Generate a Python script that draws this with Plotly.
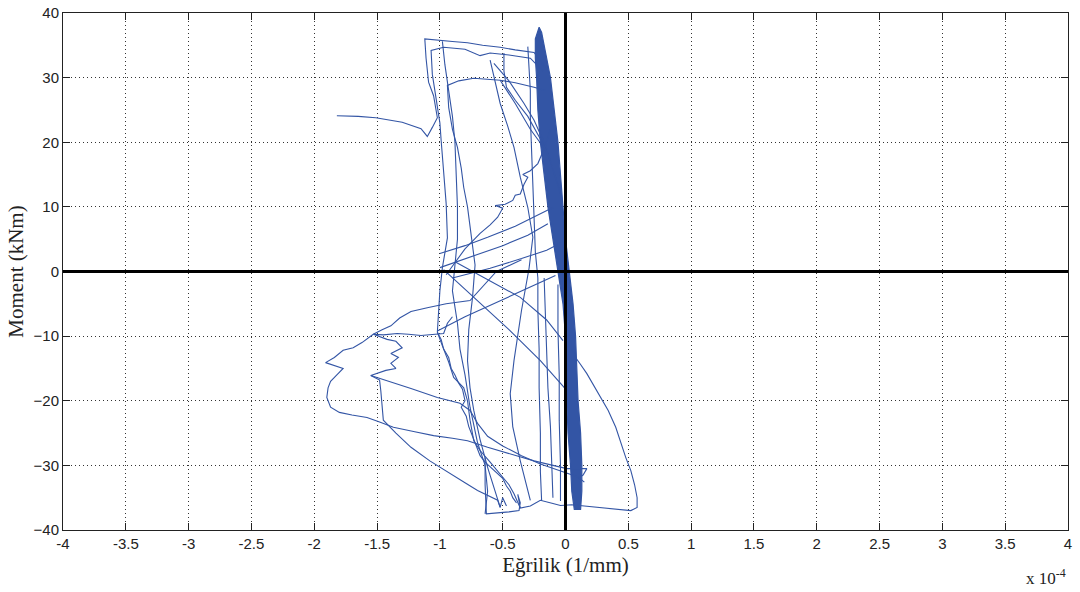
import plotly.graph_objects as go

# Moment-curvature hysteresis of the tested section.
# Curvature in units of 1e-4 1/mm, moment in kNm.

# Outer positive cycle, ending with the final excursion
curv_a = [-0.16, -0.25, -0.4, -0.52, -0.66, -0.78, -0.9, -1.0, -1.12, -1.11, -1.09, -1.05, -1.03, -1.02,
          -1.06, -1.1, -1.15, -1.3, -1.51, -1.65, -1.82]
mom_a = [31.5, 33.9, 34.3, 34.7, 35.0, 35.4, 35.6, 35.8, 36.0, 33.0, 29.3, 27.2, 25.2, 23.8,
         22.3, 20.9, 22.1, 23.1, 23.8, 24.0, 24.1]

curv_b = [-0.18, -0.28, -0.45, -0.6, -0.68, -0.8, -0.97, -1.07, -1.06, -1.03, -1.0, -0.99, -0.97, -0.95,
          -0.94, -0.96, -0.98, -1.0, -1.02, -0.98, -0.93, -0.89, -0.81, -0.78, -0.76, -0.73, -0.68, -0.6,
          -0.52, -0.45, -0.41, -0.38, -0.36]
mom_b = [31.0, 33.0, 33.5, 33.8, 33.4, 34.4, 34.7, 34.2, 30.5, 27.0, 23.0, 20.3, 15.6, 10.5,
         5.2, 2.5, 0.6, -3.0, -9.4, -11.5, -14.0, -16.4, -18.0, -20.0, -23.0, -26.2, -27.7, -29.5,
         -31.3, -33.0, -34.4, -35.8, -36.6]

curv_c = [-0.16, -0.25, -0.4, -0.52, -0.73, -0.85, -0.94, -0.93, -0.9, -0.86, -0.83, -0.81, -0.78, -0.76,
          -0.74, -0.72, -0.74, -0.77, -0.78, -0.76, -0.73, -0.68, -0.62, -0.56, -0.52]
mom_c = [28.0, 28.5, 29.2, 29.6, 29.9, 29.5, 28.8, 25.4, 22.0, 19.2, 16.0, 13.0, 10.0, 6.8,
         4.0, 1.0, -4.0, -9.0, -13.8, -18.0, -21.5, -26.0, -30.3, -34.0, -36.5]

curv_d = [-0.98, -0.96, -0.93, -0.9, -0.88, -0.87, -0.86, -0.86, -0.88, -0.9, -0.86, -0.84, -0.8, -0.76,
          -0.7, -0.64, -0.62, -0.64]
mom_d = [35.6, 32.0, 28.0, 24.0, 20.0, 15.0, 10.0, 5.0, 1.0, -3.0, -8.0, -12.0, -16.0, -21.0,
         -26.5, -30.0, -34.0, -37.5]

curv_e = [-0.57, -0.45, -0.33, -0.25, -0.16, -0.1, -0.04]
mom_e = [32.2, 29.5, 26.0, 23.4, 19.5, 15.6, 12.1]

curv_f = [-0.52, -0.4, -0.28, -0.14]
mom_f = [29.6, 26.0, 22.0, 18.3]

curv_g = [-0.49, -0.49, -0.47, -0.4, -0.3, -0.2, -0.12]
mom_g = [33.8, 31.0, 28.5, 26.5, 24.0, 20.5, 17.2]

curv_h = [-0.3, -0.29, -0.28, -0.28, -0.27, -0.26, -0.25, -0.24, -0.22, -0.22, -0.21, -0.21, -0.2, -0.2, -0.19]
mom_h = [34.8, 32.0, 28.0, 24.0, 18.0, 12.0, 7.0, 3.0, -1.0, -6.0, -12.0, -18.0, -25.0, -31.0, -35.5]

curv_i = [-0.6, -0.56, -0.52, -0.46, -0.41, -0.36, -0.3, -0.26, -0.29, -0.35, -0.41, -0.44, -0.42, -0.36,
          -0.31, -0.28]
mom_i = [32.7, 29.5, 26.0, 22.5, 19.2, 14.6, 9.9, 5.3, 0.5, -6.0, -13.8, -18.9, -24.0, -29.3,
         -33.0, -35.4]

curv_j = [-0.95, -0.8, -0.68, -0.6, -0.54, -0.5, -0.56, -0.48, -0.42, -0.4, -0.36, -0.33, -0.3, -0.34,
          -0.28, -0.22, -0.17, -0.12]
mom_j = [-0.5, 3.5, 5.9, 7.2, 8.4, 9.8, 10.2, 10.4, 11.0, 11.8, 12.0, 13.5, 14.6, 15.0,
         15.6, 16.7, 19.0, 22.0]

curv_k1 = [-1.0, -0.8, -0.62, -0.4, -0.1]
mom_k1 = [2.8, 4.0, 5.3, 7.0, 9.9]
curv_k2 = [-1.0, -0.75, -0.5, -0.3, -0.14]
mom_k2 = [0.6, 2.3, 4.0, 5.6, 7.4]
curv_k3 = [-0.9, -0.6, -0.35, -0.15, -0.03]
mom_k3 = [-1.0, 0.5, 2.0, 3.3, 4.5]

curv_l = [-0.97, -0.7, -0.45, -0.2, 0.01]
mom_l = [0.3, -4.5, -9.0, -13.8, -18.4]
curv_m = [-0.88, -0.6, -0.36, -0.15, -0.02]
mom_m = [1.5, -1.5, -4.0, -7.5, -10.7]
curv_n = [-1.02, -0.8, -0.55, -0.3, -0.08]
mom_n = [-9.2, -7.0, -4.8, -2.6, -0.6]

# Largest negative excursion
curv_o = [-0.35, -0.55, -0.76, -0.95, -1.1, -1.23, -1.32, -1.39, -1.46, -1.53, -1.62, -1.69, -1.77, -1.84,
          -1.91, -1.84, -1.77, -1.82, -1.87, -1.89, -1.9, -1.87, -1.8, -1.7, -1.58, -1.48, -1.37, -1.2,
          -1.05, -0.9, -0.78, -0.62, -0.45, -0.25, -0.1, 0.01, 0.1, 0.17, 0.14, 0.1]
mom_o = [1.8, 0.0, -4.5, -5.0, -5.6, -6.2, -7.2, -8.4, -9.0, -9.7, -11.0, -11.8, -12.2, -13.3,
         -14.1, -14.5, -15.0, -16.0, -17.0, -18.0, -19.5, -21.0, -21.8, -22.2, -22.6, -23.3, -24.1, -24.8,
         -25.4, -25.8, -26.2, -27.2, -28.2, -29.3, -30.0, -30.5, -30.5, -30.5, -31.5, -32.0]

curv_p = [-0.9, -0.94, -0.97, -1.06, -1.15, -1.25, -1.34, -1.45, -1.53, -1.42, -1.35, -1.3, -1.39, -1.33,
          -1.39, -1.35, -1.43, -1.55, -1.42, -1.23, -1.02, -0.84, -0.76, -0.7, -0.62, -0.5, -0.35, -0.2,
          -0.05, 0.1, 0.15]
mom_p = [-7.0, -8.0, -9.6, -9.8, -9.9, -9.7, -9.6, -9.8, -9.7, -10.5, -10.8, -11.8, -12.7, -13.3,
         -14.2, -15.0, -15.3, -16.1, -16.9, -18.1, -19.5, -20.4, -21.5, -23.5, -25.5, -27.0, -28.5, -29.8,
         -30.8, -31.8, -32.6]

curv_q = [-1.55, -1.48, -1.47, -1.46, -1.45, -1.35, -1.23, -1.08, -0.92, -0.8, -0.7, -0.6, -0.54, -0.52,
          -0.5, -0.47]
mom_q = [-16.1, -16.8, -18.5, -20.5, -23.0, -25.0, -27.2, -29.3, -31.3, -32.7, -33.9, -34.8, -35.4, -36.5,
         -35.0, -36.3]

curv_r = [-1.02, -0.99, -0.97, -0.93, -0.91, -0.88, -0.85, -0.82, -0.8, -0.83, -0.79, -0.77, -0.74, -0.71,
          -0.68, -0.64, -0.6, -0.55, -0.5, -0.47, -0.44, -0.42, -0.39]
mom_r = [-9.4, -10.5, -12.0, -13.3, -15.0, -16.0, -17.3, -18.2, -20.0, -21.0, -22.4, -24.0, -25.5, -27.0,
         -28.5, -29.5, -30.2, -31.0, -32.0, -33.2, -34.0, -35.0, -35.8]

curv_s = [-0.64, -0.64, -0.63, -0.55, -0.45, -0.37, -0.36, -0.38, -0.36, -0.28, -0.2, -0.1, -0.04, 0.05,
          0.15, 0.25, 0.33, 0.42, 0.52, 0.57, 0.57, 0.55, 0.52, 0.48, 0.44, 0.4, 0.34, 0.28, 0.22, 0.17,
          0.12, 0.08, 0.05]
mom_s = [-28.8, -33.0, -37.5, -37.4, -37.2, -37.0, -35.8, -34.5, -36.6, -36.3, -35.4, -35.9, -36.2, -36.1,
         -36.3, -36.5, -36.7, -36.9, -37.0, -36.5, -35.0, -33.0, -30.8, -28.8, -26.6, -24.1, -21.5, -19.5,
         -17.5, -15.8, -14.4, -13.3, -12.0]

curv_t1 = [-0.17, -0.16, -0.15, -0.14, -0.12, -0.11, -0.1]
mom_t1 = [-1.0, -6.0, -12.0, -18.0, -24.0, -30.0, -35.0]
curv_t2 = [-0.06, -0.06, -0.05, -0.05, -0.04, -0.04]
mom_t2 = [-2.0, -9.0, -16.0, -23.0, -30.0, -35.5]

# Envelope of the many small elastic cycles near the origin
band_curv = [-0.21, -0.24, -0.24, -0.23, -0.22, -0.2, -0.17, -0.14, -0.1, -0.06, -0.02, 0.0, 0.01, 0.01,
             0.02, 0.04, 0.05, 0.07,
             0.12, 0.13, 0.13, 0.12, 0.1, 0.09, 0.08, 0.06, 0.03, 0.0, -0.02, -0.04, -0.06, -0.09,
             -0.12, -0.16, -0.19, -0.21]
band_mom = [37.8, 36.0, 33.0, 30.0, 25.0, 20.0, 15.0, 10.0, 5.0, 0.0, -5.0, -10.0, -15.0, -20.0,
            -25.0, -30.0, -34.0, -36.8,
            -36.8, -34.0, -30.0, -25.0, -20.0, -15.0, -10.0, -5.0, 0.0, 5.0, 10.0, 15.0, 20.0, 25.0,
            30.0, 34.0, 37.0, 37.8]

x_ticks = [-4, -3.5, -3, -2.5, -2, -1.5, -1, -0.5, 0, 0.5, 1, 1.5, 2, 2.5, 3, 3.5, 4]
x_tick_text = ["-4", "-3.5", "-3", "-2.5", "-2", "-1.5", "-1", "-0.5", "0", "0.5", "1", "1.5",
               "2", "2.5", "3", "3.5", "4"]
y_ticks = [-40, -30, -20, -10, 0, 10, 20, 30, 40]

LINE_COLOR = "#3355a5"

segments = [
    (curv_a, mom_a), (curv_b, mom_b), (curv_c, mom_c), (curv_d, mom_d), (curv_e, mom_e),
    (curv_f, mom_f), (curv_g, mom_g), (curv_h, mom_h), (curv_i, mom_i), (curv_j, mom_j),
    (curv_k1, mom_k1), (curv_k2, mom_k2), (curv_k3, mom_k3), (curv_l, mom_l), (curv_m, mom_m),
    (curv_n, mom_n), (curv_o, mom_o), (curv_p, mom_p), (curv_q, mom_q), (curv_r, mom_r),
    (curv_s, mom_s), (curv_t1, mom_t1), (curv_t2, mom_t2),
]

fig = go.Figure()

fig.add_trace(go.Scatter(
    x=band_curv, y=band_mom, mode="lines", fill="toself",
    fillcolor=LINE_COLOR, line=dict(color=LINE_COLOR, width=1.2),
    showlegend=False, hoverinfo="skip",
))

for cx, my in segments:
    fig.add_trace(go.Scatter(
        x=cx, y=my, mode="lines",
        line=dict(color=LINE_COLOR, width=1.1),
        showlegend=False,
    ))

axis_common = dict(
    showline=True, mirror="allticks", linecolor="#222222", linewidth=1,
    ticks="inside", ticklen=7, tickcolor="#222222", tickwidth=1,
    showgrid=True, gridcolor="#333333", gridwidth=1, griddash="1px,3px",
    zeroline=False, automargin=False,
    tickfont=dict(family="Liberation Sans, Arial, sans-serif", size=15, color="#222222"),
)

fig.update_xaxes(
    range=[-4, 4], tickvals=x_ticks, ticktext=x_tick_text,
    title=dict(text="Eğrilik (1/mm)", standoff=6,
               font=dict(family="Liberation Serif, Times New Roman, serif", size=21, color="#222222")),
    **axis_common,
)
fig.update_yaxes(
    range=[-40, 40], tickvals=y_ticks,
    title=dict(text="Moment (kNm)", standoff=4,
               font=dict(family="Liberation Serif, Times New Roman, serif", size=21, color="#222222")),
    **axis_common,
)

# Heavy reference lines through the origin
fig.add_shape(type="line", xref="x", yref="y", x0=0, x1=0, y0=-40, y1=40,
              line=dict(color="black", width=3), layer="above")
fig.add_shape(type="line", xref="x", yref="y", x0=-4, x1=4, y0=0, y1=0,
              line=dict(color="black", width=3), layer="above")

fig.add_annotation(
    text="x 10<sup>-4</sup>", xref="paper", yref="paper", x=1.0, y=-0.09,
    xanchor="right", yanchor="middle", showarrow=False,
    font=dict(family="Liberation Serif, Times New Roman, serif", size=17, color="#222222"),
)

fig.update_layout(
    width=1080, height=592,
    margin=dict(l=63, r=12, t=13, b=62),
    paper_bgcolor="white", plot_bgcolor="white",
    showlegend=False,
)

fig.write_html("out.html")
